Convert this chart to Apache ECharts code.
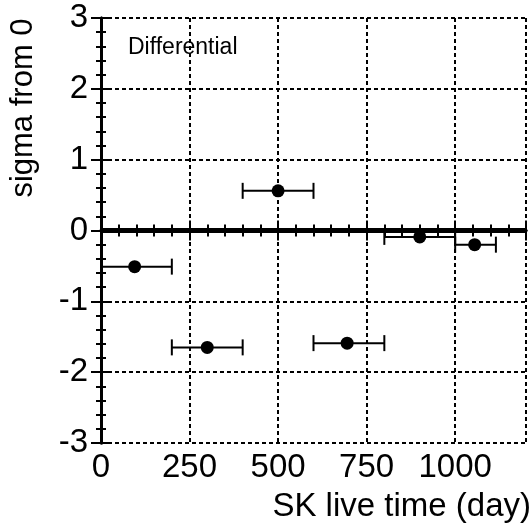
<!DOCTYPE html>
<html>
<head>
<meta charset="utf-8">
<script src="https://cdn.jsdelivr.net/npm/echarts@6/dist/echarts.min.js"></script>
<style>
  html, body { margin: 0; padding: 0; background: #fff; }
  #main { width: 532px; height: 528px; }
</style>
</head>
<body>
<div id="main"></div>
<script>
// live time bins (day) and deviation in sigma from 0
const timeMid = [95, 300, 500, 695, 900, 1055]
const timeLow = [0, 200, 400, 600, 800, 1000]
const timeHigh = [200, 400, 600, 800, 1000, 1115]
const sigma = [-0.51, -1.65, 0.56, -1.59, -0.09, -0.2]

const FONT = 'Liberation Sans, Arial, sans-serif'

const points = timeMid.map(function(t, i) { return [t, sigma[i]] })
const bars = timeMid.map(function(t, i) { return [timeLow[i], timeHigh[i], sigma[i]] })

const myChart = echarts.init(document.getElementById('main'))

const dashed = {
  show: true,
  lineStyle: { color: '#000', width: 2, type: [4, 3] }
}

const option = {
  backgroundColor: '#fff',
  animation: false,
  grid: { left: 101, right: 6, top: 18, bottom: 85 },
  xAxis: [{
    type: 'value',
    position: 'bottom',
    min: 0,
    max: 1200,
    interval: 250,
    axisLine: { show: true, lineStyle: { color: '#000', width: 3 } },
    axisTick: { show: true, inside: true, length: 10, lineStyle: { color: '#000', width: 2 } },
    minorTick: { show: true, splitNumber: 5, length: 6, lineStyle: { color: '#000', width: 2 } },
    splitLine: dashed,
    axisLabel: {
      color: '#000',
      fontSize: 33,
      fontFamily: FONT,
      margin: 8,
      formatter: function(val) {
        return val > 1000 ? '' : String(val)
      }
    }
  }, {
    type: 'value',
    position: 'top',
    min: 0,
    max: 1200,
    interval: 250,
    axisLine: { show: true, lineStyle: { color: '#000', width: 3 } },
    axisTick: { show: true, inside: true, length: 10, lineStyle: { color: '#000', width: 2 } },
    minorTick: { show: true, splitNumber: 5, length: 6, lineStyle: { color: '#000', width: 2 } },
    splitLine: { show: false },
    axisLabel: { show: false }
  }],
  yAxis: [{
    type: 'value',
    position: 'left',
    min: -3,
    max: 3,
    interval: 1,
    axisLine: { show: true, lineStyle: { color: '#000', width: 3 } },
    axisTick: { show: true, inside: true, length: 10, lineStyle: { color: '#000', width: 2 } },
    minorTick: { show: true, splitNumber: 5, length: 5, lineStyle: { color: '#000', width: 2 } },
    splitLine: dashed,
    axisLabel: { color: '#000', fontSize: 33, fontFamily: FONT, margin: 13 }
  }, {
    type: 'value',
    position: 'right',
    min: -3,
    max: 3,
    interval: 1,
    axisLine: { show: true, lineStyle: { color: '#000', width: 3 } },
    axisTick: { show: true, inside: true, length: 10, lineStyle: { color: '#000', width: 2 } },
    minorTick: { show: true, splitNumber: 5, length: 5, lineStyle: { color: '#000', width: 2 } },
    splitLine: { show: false },
    axisLabel: { show: false }
  }],
  graphic: [{
    type: 'text',
    x: 23,
    y: 108,
    rotation: Math.PI / 2,
    style: {
      text: 'sigma from 0',
      font: '31px ' + FONT,
      fill: '#000',
      textAlign: 'center',
      textVerticalAlign: 'middle'
    }
  }, {
    type: 'text',
    x: 531,
    y: 507,
    style: {
      text: 'SK live time (day)',
      font: '33px ' + FONT,
      fill: '#000',
      textAlign: 'right',
      textVerticalAlign: 'middle'
    }
  }, {
    type: 'text',
    x: 128,
    y: 48,
    z: 10,
    style: {
      text: 'Differential',
      font: '23px ' + FONT,
      fill: '#000',
      textAlign: 'left',
      textVerticalAlign: 'middle'
    }
  }],
  series: [{
    type: 'custom',
    xAxisIndex: 0,
    yAxisIndex: 0,
    data: bars,
    renderItem: function(params, api) {
      const lo = api.coord([api.value(0), api.value(2)])
      const hi = api.coord([api.value(1), api.value(2)])
      const cap = 8
      const st = { stroke: '#000', lineWidth: 2 }
      return {
        type: 'group',
        children: [
          { type: 'line', shape: { x1: lo[0], y1: lo[1], x2: hi[0], y2: hi[1] }, style: st },
          { type: 'line', shape: { x1: lo[0], y1: lo[1] - cap, x2: lo[0], y2: lo[1] + cap }, style: st },
          { type: 'line', shape: { x1: hi[0], y1: hi[1] - cap, x2: hi[0], y2: hi[1] + cap }, style: st }
        ]
      }
    },
    z: 3
  }, {
    type: 'scatter',
    xAxisIndex: 0,
    yAxisIndex: 0,
    data: points,
    symbol: 'circle',
    symbolSize: 13,
    itemStyle: { color: '#000', opacity: 1 },
    z: 4,
    markLine: {
      silent: true,
      symbol: 'none',
      label: { show: false },
      lineStyle: { color: '#000', width: 5, type: 'solid', opacity: 1 },
      data: [{ yAxis: 0 }]
    }
  }]
}

myChart.setOption(option)
</script>
</body>
</html>
